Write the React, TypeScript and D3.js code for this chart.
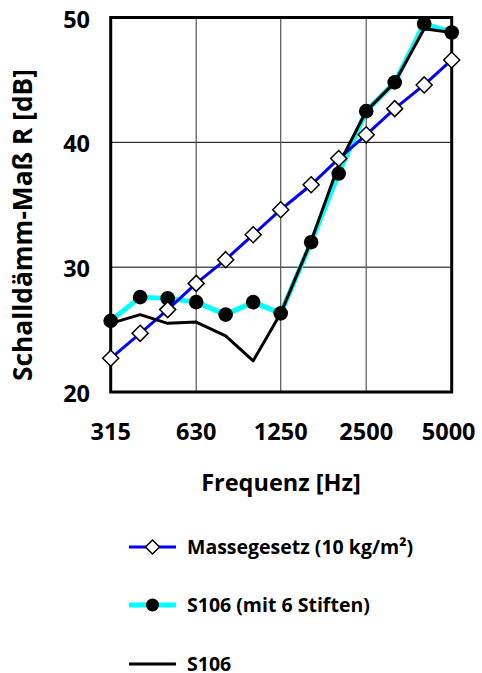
import React from "react";
import { scaleLog, scaleLinear, line } from "d3";

// Terzbänder
const freqs = [315, 400, 500, 630, 800, 1000, 1250, 1600, 2000, 2500, 3150, 4000, 5000];
const xTicks = [315, 630, 1250, 2500, 5000];
const yTicks = [20, 30, 40, 50];

// Messwerte R [dB]
const massegesetz = [22.7, 24.7, 26.6, 28.7, 30.6, 32.6, 34.6, 36.6, 38.7, 40.6, 42.7, 44.6, 46.6];
const s106Stifte = [25.7, 27.6, 27.5, 27.2, 26.2, 27.2, 26.3, 32.0, 37.5, 42.5, 44.8, 49.5, 48.8];
const s106 = [25.5, 26.2, 25.5, 25.6, 24.5, 22.5, 26.3, 32.1, 38.2, 42.5, 44.8, 49.1, 48.8];

const legendLabels = ["Massegesetz (10 kg/m²)", "S106 (mit 6 Stiften)", "S106"];

const W = 482;
const H = 673;
const plot = { left: 110.7, right: 451.7, top: 17.5, bottom: 392 };
const font = "'Open Sans', 'DejaVu Sans', sans-serif";

function diamond(cx: number, cy: number, r: number) {
  return `M${cx},${cy - r}L${cx + r},${cy}L${cx},${cy + r}L${cx - r},${cy}Z`;
}

export default function App() {
  const x = scaleLog().domain([315, 5000]).range([plot.left, plot.right]);
  const y = scaleLinear().domain([20, 50]).range([plot.bottom, plot.top]);

  const path = (vals: number[]) =>
    line<number>()
      .x((_, i) => x(freqs[i]))
      .y((d) => y(d))(vals) || "";

  const legendY = [547, 605, 664];
  const lx0 = 129;
  const lx1 = 176;
  const lcx = (lx0 + lx1) / 2;

  return (
    <svg
      width={W}
      height={H}
      style={{ position: "absolute", left: 0, top: 0, background: "#fff" }}
      fontFamily={font}
      fontWeight={700}
    >
      <rect width={W} height={H} fill="#fff" />

      {/* Gitter */}
      {yTicks
        .filter((t) => t > 20 && t < 50)
        .map((t) => (
          <line key={"gy" + t} x1={plot.left} x2={plot.right} y1={y(t)} y2={y(t)} stroke="#000" strokeWidth={1} />
        ))}
      {xTicks
        .filter((t) => t > 315 && t < 5000)
        .map((t) => (
          <line key={"gx" + t} x1={x(t)} x2={x(t)} y1={plot.top} y2={plot.bottom} stroke="#555" strokeWidth={1.2} />
        ))}

      {/* Rahmen */}
      <rect
        x={plot.left}
        y={plot.top}
        width={plot.right - plot.left}
        height={plot.bottom - plot.top}
        fill="none"
        stroke="#000"
        strokeWidth={3}
      />

      {/* S106 mit Stiften */}
      <path d={path(s106Stifte)} fill="none" stroke="#00ffff" strokeWidth={5} strokeLinejoin="round" />
      {s106Stifte.map((v, i) => (
        <circle key={"c" + i} cx={x(freqs[i])} cy={y(v)} r={7.3} fill="#000" />
      ))}

      {/* Massegesetz Linie */}
      <path d={path(massegesetz)} fill="none" stroke="#0000ff" strokeWidth={3} />

      {/* S106 */}
      <path d={path(s106)} fill="none" stroke="#000" strokeWidth={3} strokeLinejoin="round" />

      {massegesetz.map((v, i) => (
        <path key={"d" + i} d={diamond(x(freqs[i]), y(v), 8)} fill="#fff" stroke="#000" strokeWidth={1.5} />
      ))}

      {/* Achsenbeschriftung */}
      {yTicks.map((t) => (
        <text key={"yl" + t} x={90} y={y(t) + 10} textAnchor="end" fontSize={23.5} fill="#000">
          {t}
        </text>
      ))}
      {xTicks.map((t) => (
        <text key={"xl" + t} x={t === 5000 ? x(t) - 3 : x(t)} y={440} textAnchor="middle" fontSize={23.5} fill="#000">
          {t}
        </text>
      ))}
      <text x={281} y={491} textAnchor="middle" fontSize={23.5} fill="#000">
        Frequenz [Hz]
      </text>
      <text
        transform={`translate(31.5,225) rotate(-90)`}
        textAnchor="middle"
        fontSize={26.3}
        fill="#000"
      >
        Schalldämm-Maß R [dB]
      </text>

      {/* Legende */}
      <line x1={lx0} x2={lx1} y1={legendY[0]} y2={legendY[0]} stroke="#0000ff" strokeWidth={3} />
      <path d={diamond(lcx, legendY[0], 7)} fill="#fff" stroke="#000" strokeWidth={1.5} />
      <line x1={lx0} x2={lx1} y1={legendY[1]} y2={legendY[1]} stroke="#00ffff" strokeWidth={5} />
      <circle cx={lcx} cy={legendY[1]} r={6.5} fill="#000" />
      <line x1={lx0} x2={lx1} y1={legendY[2]} y2={legendY[2]} stroke="#000" strokeWidth={3} />
      {legendLabels.map((l, i) => (
        <text key={l} x={187} y={legendY[i] + 7} fontSize={19.5} fill="#000">
          {l}
        </text>
      ))}
    </svg>
  );
}
